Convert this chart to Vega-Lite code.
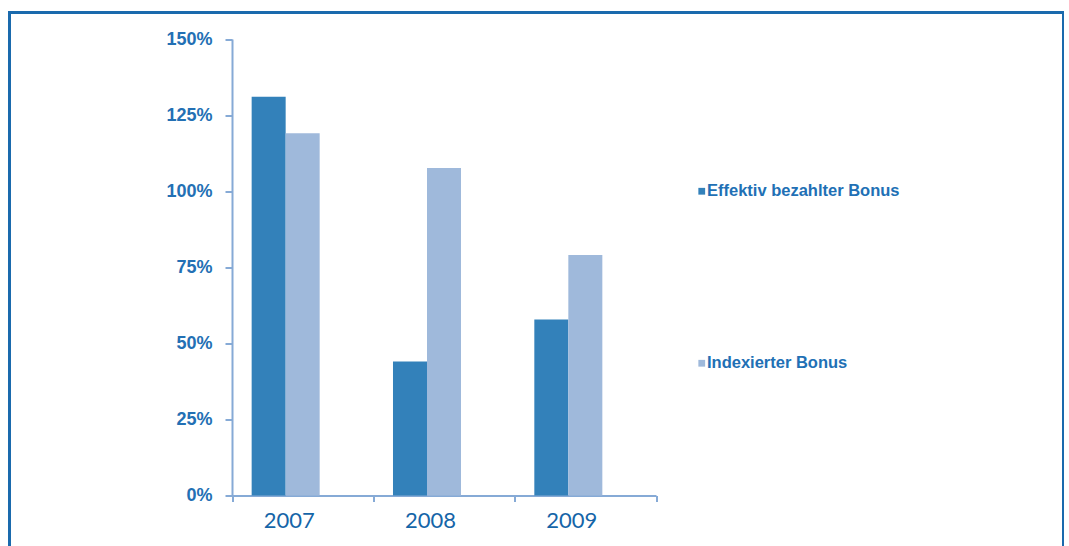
{
  "$schema": "https://vega.github.io/schema/vega-lite/v6.json",
  "autosize": {"type": "none"},
  "padding": {"left": 9.5, "top": 12.5, "right": 0, "bottom": 0},
  "width": 1054,
  "height": 540,
  "background": "white",
  "config": {
    "view": {"stroke": "#1a6aad", "strokeWidth": 3},
    "axis": {"grid": false}
  },
  "data": {
    "values": [
      {"year": "2007", "series": "Effektiv bezahlter Bonus", "value": 1.31},
      {"year": "2007", "series": "Indexierter Bonus", "value": 1.19},
      {"year": "2008", "series": "Effektiv bezahlter Bonus", "value": 0.44},
      {"year": "2008", "series": "Indexierter Bonus", "value": 1.076},
      {"year": "2009", "series": "Effektiv bezahlter Bonus", "value": 0.578},
      {"year": "2009", "series": "Indexierter Bonus", "value": 0.79}
    ]
  },
  "mark": {"type": "bar"},
  "encoding": {
    "x": {
      "field": "year",
      "type": "nominal",
      "title": null,
      "scale": {"range": [222.5, 646.5], "paddingInner": 0, "paddingOuter": 0},
      "axis": {
        "offset": -57,
        "domainColor": "#86aad6",
        "domainWidth": 2,
        "tickColor": "#86aad6",
        "tickWidth": 2,
        "tickSize": 6,
        "tickBand": "extent",
        "labelAngle": 0,
        "labelFont": "Lato",
        "labelFontSize": 22,
        "labelColor": "#1565a8",
        "labelPadding": 9,
        "labelOffset": -14
      }
    },
    "xOffset": {
      "field": "series",
      "type": "nominal",
      "scale": {"domain": ["Effektiv bezahlter Bonus", "Indexierter Bonus", "_"], "paddingInner": 0, "paddingOuter": 0.578}
    },
    "y": {
      "field": "value",
      "type": "quantitative",
      "title": null,
      "scale": {"domain": [0, 1.5], "range": [483, 26.5], "nice": false, "zero": true},
      "axis": {
        "offset": -222.5,
        "values": [0, 0.25, 0.5, 0.75, 1, 1.25, 1.5],
        "format": ".0%",
        "domainColor": "#86aad6",
        "domainWidth": 2,
        "tickColor": "#86aad6",
        "tickWidth": 2,
        "tickSize": 7,
        "labelFont": "Liberation Sans",
        "labelFontWeight": "bold",
        "labelFontSize": 18,
        "labelColor": "#2370b4",
        "labelPadding": 13
      }
    },
    "color": {
      "field": "series",
      "type": "nominal",
      "scale": {"domain": ["Effektiv bezahlter Bonus", "Indexierter Bonus"], "range": ["#3381ba", "#9fb9db"]},
      "legend": {
        "title": null,
        "orient": "none",
        "legendX": 684,
        "legendY": 170.5,
        "padding": 0,
        "symbolType": "square",
        "symbolSize": 46,
        "symbolStrokeWidth": 0,
        "labelFont": "Liberation Sans",
        "labelFontWeight": "bold",
        "labelFontSize": 16.5,
        "labelColor": "#2170b5",
        "labelOffset": -3,
        "labelLimit": 0,
        "rowPadding": 155
      }
    }
  }
}
